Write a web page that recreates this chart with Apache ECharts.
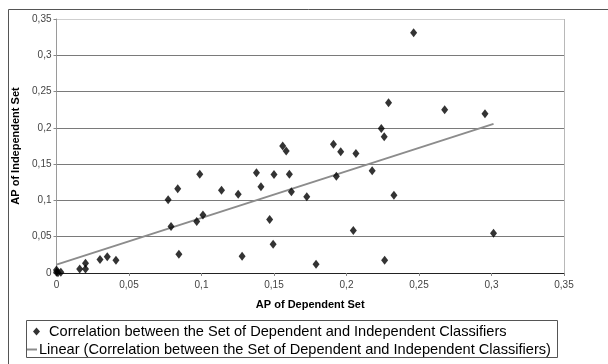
<!DOCTYPE html>
<html><head><meta charset="utf-8">
<script src="https://cdn.jsdelivr.net/npm/echarts@6/dist/echarts.min.js"></script>
<style>html,body{margin:0;padding:0;background:#fff}#c{width:608px;height:364px}</style>
</head><body><div id="c"></div>
<script>
const depX = [0, 0, 0.001, 0.003, 0.016, 0.020, 0.020, 0.030, 0.035, 0.041,
  0.077, 0.079, 0.0836, 0.0844, 0.0967, 0.0988, 0.101, 0.1138, 0.1253, 0.128,
  0.1379, 0.141, 0.147, 0.1494, 0.150, 0.156, 0.1584, 0.1606, 0.162, 0.1726,
  0.179, 0.191, 0.193, 0.196, 0.2047, 0.2065, 0.2177, 0.224, 0.226, 0.2263,
  0.229, 0.2327, 0.2463, 0.2677, 0.2955, 0.3014];
const indepY = [0.004, 0.001, 0.0005, 0.001, 0.0055, 0.0055, 0.0135, 0.0185, 0.0225, 0.0175,
  0.101, 0.064, 0.116, 0.026, 0.071, 0.136, 0.080, 0.114, 0.1085, 0.023,
  0.138, 0.1187, 0.0736, 0.0396, 0.1357, 0.175, 0.168, 0.136, 0.112, 0.105,
  0.012, 0.1775, 0.1334, 0.167, 0.0584, 0.1646, 0.141, 0.199, 0.1877, 0.0175,
  0.2346, 0.107, 0.331, 0.225, 0.2193, 0.0547];
const trendX = [0, 0.3014];
const trendY = [0.0115, 0.2055];
const seriesNames = ['Correlation between the Set of Dependent and Independent Classifiers',
  'Linear (Correlation between the Set of Dependent and Independent Classifiers)'];
const xTitle = 'AP of Dependent Set';
const yTitle = 'AP of Independent Set';

const fmt = v => String(+v.toFixed(2)).replace('.', ',');
const chart = echarts.init(document.getElementById('c'));
const FONT = '"Liberation Sans", Arial, sans-serif';
chart.setOption({
  animation: false,
  grid: {left: 56.5, right: 44, top: 19, bottom: 91},
  xAxis: {
    type: 'value', min: 0, max: 0.35, interval: 0.05,
    name: xTitle, nameLocation: 'middle', nameGap: 26,
    nameTextStyle: {fontFamily: FONT, fontWeight: 'bold', fontSize: 11, color: '#000'},
    axisLine: {lineStyle: {color: '#222', width: 1}},
    axisTick: {show: true, length: 3, lineStyle: {color: '#888'}},
    axisLabel: {formatter: fmt, fontFamily: FONT, fontSize: 10, color: '#444', margin: 7},
    splitLine: {show: true, lineStyle: {color: ['transparent','transparent','transparent','transparent','transparent','transparent','transparent','#b8b8b8'], width: 1}}
  },
  yAxis: {
    type: 'value', min: 0, max: 0.35, interval: 0.05,
    name: yTitle, nameLocation: 'middle', nameGap: 32, nameRotate: 90,
    nameTextStyle: {fontFamily: FONT, fontWeight: 'bold', fontSize: 11, color: '#000'},
    axisLine: {show: true, lineStyle: {color: '#9a9a9a', width: 1}},
    axisTick: {show: true, length: 3, lineStyle: {color: '#888'}},
    axisLabel: {formatter: fmt, fontFamily: FONT, fontSize: 10, color: '#444', margin: 5},
    splitLine: {show: true, lineStyle: {color: ['#7a7a7a','#7a7a7a','#7a7a7a','#7a7a7a','#7a7a7a','#7a7a7a','#7a7a7a','#cfcfcf'], width: 1}}
  },
  legend: [
    {data: [seriesNames[0]], left: 33, top: 324, padding: 0, itemWidth: 7, itemHeight: 8, itemGap: 4,
     textStyle: {fontFamily: FONT, fontSize: 14.6, color: '#000', padding: [0,0,0,4]}},
    {data: [{name: seriesNames[1], icon: 'rect'}], left: 27, top: 342, padding: 0, itemWidth: 10, itemHeight: 2,
     textStyle: {fontFamily: FONT, fontSize: 14.6, color: '#000', padding: [0,0,0,-3]}}
  ],
  graphic: [
    {type: 'rect', shape: {x: 8.5, y: 9.5, width: 640, height: 400}, style: {fill: 'none', stroke: '#555', lineWidth: 1}, silent: true, z: -1},
    {type: 'rect', shape: {x: 26.5, y: 320.5, width: 531, height: 37}, style: {fill: 'none', stroke: '#555', lineWidth: 1}, silent: true, z: -1}
  ],
  series: [
    {name: seriesNames[0], type: 'scatter', symbol: 'diamond', symbolSize: [7, 9],
     itemStyle: {color: '#000'}, data: depX.map((x, i) => [x, indepY[i]]), z: 3},
    {name: seriesNames[1], type: 'line', symbol: 'none', showSymbol: false,
     lineStyle: {color: '#8c8c8c', width: 2}, itemStyle: {color: '#8c8c8c'},
     data: trendX.map((x, i) => [x, trendY[i]]), z: 2}
  ]
});
</script></body></html>
